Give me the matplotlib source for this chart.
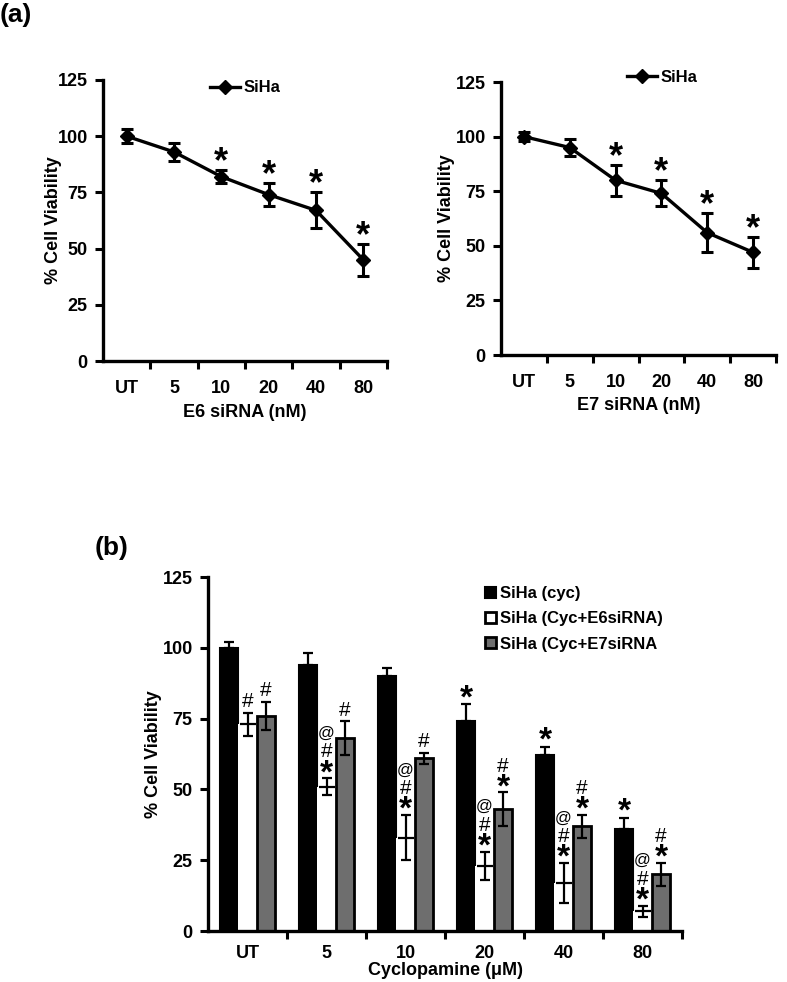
import matplotlib
matplotlib.use("Agg")
import matplotlib.pyplot as plt
from matplotlib.patches import Patch
from matplotlib.lines import Line2D
import numpy as np

plt.rcParams['font.family'] = ['Liberation Sans', 'DejaVu Sans']
plt.rcParams['font.weight'] = 'bold'

# ---------------- data ----------------
cats_a = ["UT", "5", "10", "20", "40", "80"]
e6_mean = [100, 93, 82, 74, 67, 45]
e6_err = [3, 4, 3, 5, 8, 7]
e6_sig = ["", "", "*", "*", "*", "*"]

e7_mean = [100, 95, 80, 74, 56, 47]
e7_err = [2, 4, 7, 6, 9, 7]
e7_sig = ["", "", "*", "*", "*", "*"]

cats_b = ["UT", "5", "10", "20", "40", "80"]
cyc_mean = [100, 94, 90, 74, 62, 36]
cyc_err = [2, 4, 3, 6, 3, 4]
cyc_sig = [[], [], [], ["*"], ["*"], ["*"]]
e6c_mean = [73, 51, 33, 23, 17, 7]
e6c_err = [4, 3, 8, 5, 7, 2]
e6c_sig = [["#"], ["*", "#", "@"], ["*", "#", "@"], ["*", "#", "@"], ["*", "#", "@"], ["*", "#", "@"]]
e7c_mean = [76, 68, 61, 43, 37, 20]
e7c_err = [5, 6, 2, 6, 4, 4]
e7c_sig = [["#"], ["#"], ["#"], ["*", "#"], ["*", "#"], ["*", "#"]]

legend_b = ["SiHa (cyc)", "SiHa (Cyc+E6siRNA)", "SiHa (Cyc+E7siRNA"]

W, H = 787, 982
PT = 0.72  # points per pixel at dpi 100
fig = plt.figure(figsize=(W / 100, H / 100), dpi=100)


def px_axes(x0, x1, ytop, ybot):
    return fig.add_axes([x0 / W, (H - ybot) / H, (x1 - x0) / W, (ybot - ytop) / H])


def style_axes(ax, cats, xpad):
    n = len(cats)
    ax.set_xlim(-0.5, n - 0.5)
    ax.set_ylim(0, 125)
    ax.set_yticks([0, 25, 50, 75, 100, 125])
    ax.set_xticks(range(n))
    ax.set_xticklabels(cats)
    ax.set_xticks(np.arange(0.5, n, 1.0), minor=True)
    ax.tick_params(axis='x', which='major', length=0, pad=xpad, labelsize=13)
    ax.tick_params(axis='x', which='minor', length=6, width=2.2, direction='out')
    ax.tick_params(axis='y', length=6, width=2.2, direction='out', labelsize=13, pad=5)
    for lab in ax.get_xticklabels() + ax.get_yticklabels():
        lab.set_fontweight('bold')
    for s in ['top', 'right']:
        ax.spines[s].set_visible(False)
    for s in ['left', 'bottom']:
        ax.spines[s].set_linewidth(2.4)
    ax.patch.set_alpha(0)


# glyph vertical centre above baseline, in em
GLYPH_C = {'*': 0.42, '#': 0.35, '@': 0.27}
GLYPH_FS = {'*': 24, '#': 15, '@': 12}
GLYPH_W = {'*': 'bold', '#': 'normal', '@': 'normal'}


def put_symbol(ax, s, x, y, center_px, fs=None):
    fs = fs or GLYPH_FS[s]
    off = center_px * PT - GLYPH_C[s] * fs
    ax.annotate(s, (x, y), xytext=(0, off), textcoords='offset points',
                ha='center', va='baseline', fontsize=fs, fontweight=GLYPH_W[s])


def line_panel(ax, mean, err, sig, xlabel, ylpad, xlpad):
    x = np.arange(len(mean))
    ax.errorbar(x, mean, yerr=err, color='black', lw=2.4, marker='D', ms=7.5,
                capsize=4, capthick=2.2, elinewidth=2.2, zorder=3)
    for xi, m, e, s in zip(x, mean, err, sig):
        if s:
            put_symbol(ax, s, xi, m + e, 13, fs=26)
    ax.set_ylabel('% Cell Viability', fontsize=13, fontweight='bold', labelpad=ylpad)
    ax.set_xlabel(xlabel, fontsize=13, fontweight='bold', labelpad=xlpad)


def line_legend(ax, x0_px, yc_px):
    h = Line2D([], [], color='black', lw=2.4, marker='D', ms=7.5)
    ax.legend([h], ['SiHa'], loc='center left', bbox_to_anchor=(x0_px / W, 1 - yc_px / H),
              bbox_transform=fig.transFigure, frameon=False, borderpad=0, borderaxespad=0,
              handlelength=1.8, handletextpad=0.2, prop={'weight': 'bold', 'size': 12})


# ---------------- panel (a) ----------------
ax1 = px_axes(103, 387, 80, 361)
style_axes(ax1, cats_a, 14)
line_panel(ax1, e6_mean, e6_err, e6_sig, 'E6 siRNA (nM)', -3, 5)
line_legend(ax1, 210, 88)

ax2 = px_axes(501, 776, 82, 355)
style_axes(ax2, cats_a, 14)
line_panel(ax2, e7_mean, e7_err, e7_sig, 'E7 siRNA (nM)', 0, 4)
line_legend(ax2, 627, 77)

fig.text(0 / W, 1 - 15 / H, '(a)', fontsize=19, fontweight='bold', va='center', ha='left')
fig.text(95 / W, 1 - 548 / H, '(b)', fontsize=19, fontweight='bold', va='center', ha='left')

# ---------------- panel (b) ----------------
ax3 = px_axes(208, 682, 577, 931)
style_axes(ax3, cats_b, 10)
xb = np.arange(len(cats_b))
bw = 0.235
ek = dict(elinewidth=1.6, capsize=3.5, capthick=1.6, ecolor='black')
ax3.bar(xb - bw, cyc_mean, bw, yerr=[np.zeros(len(cyc_err)), cyc_err], color='black',
        edgecolor='black', linewidth=1.5, error_kw=ek, zorder=2)
ax3.bar(xb, e6c_mean, bw, yerr=e6c_err, color='white', edgecolor='white', linewidth=0,
        error_kw=ek, zorder=2)
ax3.plot(xb, e6c_mean, ls='none', marker='_', ms=11, mew=1.6, color='black', zorder=3)
ax3.bar(xb + bw, e7c_mean, bw, yerr=e7c_err, color='#6e6e6e',
        edgecolor='black', linewidth=2, error_kw=ek, zorder=2)


def stack(ax, xpos, ytop, syms):
    c = 10 if syms and syms[0] == '*' else 13
    if syms == ['*']:
        c = 11
    for s in syms:
        put_symbol(ax, s, xpos, ytop, c)
        c += 18 if s == '*' else 17


for i in range(len(cats_b)):
    stack(ax3, xb[i] - bw, cyc_mean[i] + cyc_err[i], cyc_sig[i])
    stack(ax3, xb[i], e6c_mean[i] + e6c_err[i], e6c_sig[i])
    stack(ax3, xb[i] + bw, e7c_mean[i] + e7c_err[i], e7c_sig[i])

ax3.set_ylabel('% Cell Viability', fontsize=13, fontweight='bold', labelpad=0)
ax3.set_xlabel('Cyclopamine (\u03bcM)', fontsize=13, fontweight='bold', labelpad=0)

handles = [Patch(facecolor='black', edgecolor='black', lw=1.5),
           Patch(facecolor='white', edgecolor='black', lw=2),
           Patch(facecolor='#6e6e6e', edgecolor='black', lw=2)]
fig.legend(handles, legend_b, loc='upper left', bbox_to_anchor=(485 / W, 1 - 586 / H),
           frameon=False, borderpad=0, borderaxespad=0, handlelength=0.65, handleheight=0.65,
           handletextpad=0.25, labelspacing=0.62, prop={'weight': 'bold', 'size': 12})

fig.savefig('out.png', dpi=100)
